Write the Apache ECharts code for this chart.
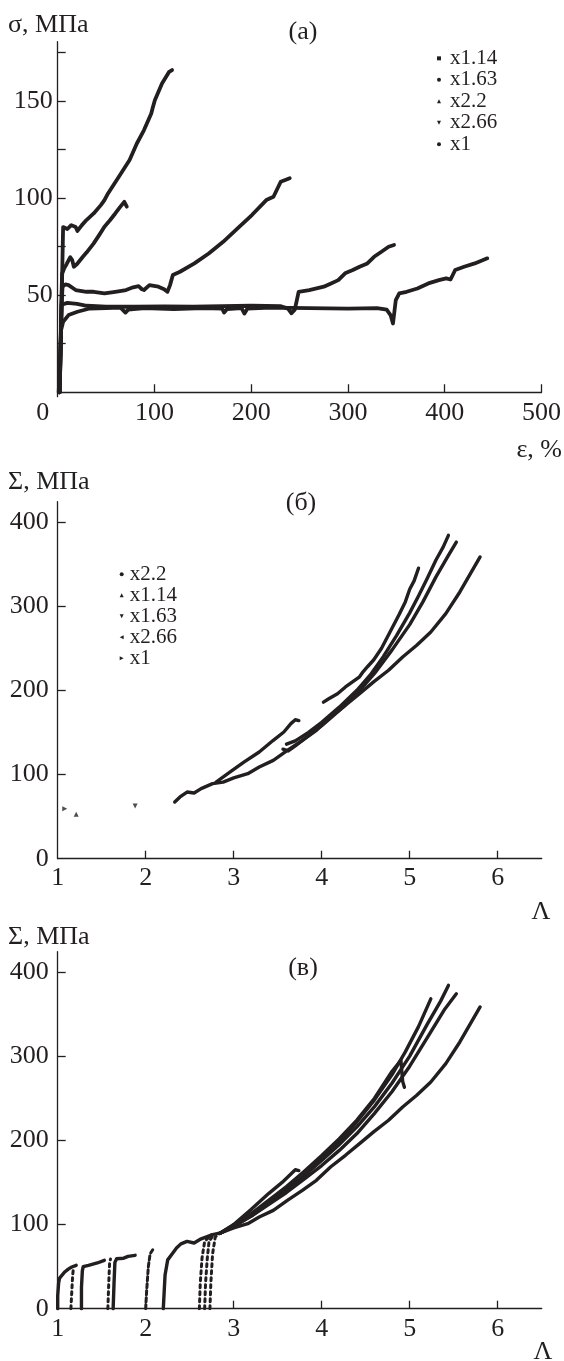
<!DOCTYPE html>
<html><head><meta charset="utf-8">
<script src="https://cdn.jsdelivr.net/npm/echarts@6/dist/echarts.min.js"></script>
<style>html,body{margin:0;padding:0;background:#fff}#c{width:564px;height:1361px}</style>
</head><body><div id="c"></div>
<script>
// ---------- Panel (a): engineering stress σ (MPa) vs strain ε (%) ----------
const a_x114 = [[2,0],[3,20],[4,45],[5,70],[5.6,85],[10,84],[14,86],[18.6,85],[20.4,83],[25,86],[29.7,88.6],[37.2,92],[44.6,96.3],[48.3,98.9],[52,102.3],[63.2,110.9],[74.3,119.5],[81.8,128],[89.2,134.9],[96.7,143.5],[98,146],[100.4,150.3],[107.8,158.9],[115.2,164.9],[118.2,165.8]];
const a_x163 = [[2,0],[3,20],[4,45],[5,54.3],[8,55.5],[11.2,55.1],[18.6,52.6],[29.7,51.7],[37.2,51.7],[48.3,50.9],[59.5,51.7],[70.6,52.6],[78,54],[83.6,54.6],[87,53],[89.2,52.6],[94.8,55.1],[104.1,54.3],[110,53],[113.4,51.7],[116,55],[119,60.3],[126.4,62],[141.3,66.3],[156.1,71.4],[171,77.4],[185.9,84.3],[200.7,91.2],[215.6,98.9],[223,100.6],[230.5,108.3],[239.8,110.1]];
const a_x22 = [[2,0],[3,25],[4,50],[4.5,61],[7,64],[9.3,66],[13,69.5],[15,68],[16.7,64.6],[20,66],[26,69.7],[30,72],[37.2,76.6],[43,81],[48.3,85.2],[54,88.5],[59.5,92],[64,95],[68.8,98],[71.4,95.5]];
const a_x266 = [[2,0],[3,25],[4,45],[5,46],[10,46],[20,45.5],[30,44.5],[50,44],[80,44],[110,44.2],[140,44],[170,44.3],[200,44.5],[230,44.3],[238,43],[241.6,40.6],[245,42.5],[247,47],[249,51.7],[260,52.6],[275,54.3],[282.5,56],[290,57.7],[297,61.2],[305,62.9],[312,64.6],[320,66.3],[327,69.7],[334.6,72.3],[342,74.9],[347.6,75.8]];
const a_x1 = [[1,0],[2,10],[3,25],[3.5,32],[5.6,36.3],[11.2,39.7],[20.4,41.4],[33,43.1],[50,43.3],[65,43.5],[70,41],[73,42.5],[90,43.3],[120,42.8],[150,43.3],[170,43],[172,41],[175,42.8],[190,43.3],[193,40.5],[196,43],[220,43.5],[260,43.3],[300,43],[330,43.3],[340,42.5],[344,39.7],[346.5,35.4],[349.4,47.4],[353,50.9],[360.6,51.7],[371.7,53.4],[383,56],[394,57.7],[401.5,58.6],[406,58],[410.8,62.9],[420,64.6],[431,66.3],[444,68.9]];
const a_xTicks = [0,100,200,300,400,500];
const a_yLabels = [50,100,150];
const a_yTicks = [25,50,75,100,125,150,175];

// ---------- Panel (б): true stress Σ (MPa) vs draw ratio Λ ----------
const b_x22 = [[3.60,136],[3.70,140],[3.85,150],[4.0,162],[4.2,180],[4.4,200],[4.55,218],[4.7,240],[4.85,265],[5.0,292],[5.1,312],[5.2,333],[5.3,355],[5.38,370],[5.44,384]];
const b_x114 = [[2.80,91],[2.96,103],[3.12,114.9],[3.29,126.7],[3.45,140.6],[3.57,150.5],[3.65,160.4],[3.70,165],[3.74,164]];
const b_x163 = [[3.56,130],[3.62,128],[3.7,134],[3.85,146],[4.0,158],[4.2,176],[4.4,196],[4.6,220],[4.8,248],[5.0,278],[5.15,305],[5.3,335],[5.45,362],[5.53,376]];
const b_x266 = [[4.02,186],[4.08,190],[4.18,196],[4.27,204],[4.35,210],[4.43,216],[4.47,222],[4.52,228],[4.59,236],[4.68,250],[4.76,266],[4.88,290],[4.95,305],[5.0,320],[5.05,330],[5.10,345]];
const b_x1 = [[2.33,67.3],[2.39,73.3],[2.47,79.2],[2.55,78],[2.63,83.2],[2.76,89.1],[2.88,91],[3.0,96],[3.16,101],[3.29,108.9],[3.45,116.8],[3.61,128.7],[3.78,140.6],[3.94,152.5],[4.10,168.3],[4.27,182.2],[4.43,196],[4.59,210],[4.76,223.8],[4.92,239.6],[5.08,253.5],[5.24,269.3],[5.41,291],[5.57,316.8],[5.80,358.4]];
const b_pt_x1 = [[1.08,59.4]];
const b_pt_x114 = [[1.21,52.7]];
const b_pt_x163 = [[1.88,62.6]];

// ---------- Panel (в): Σ vs Λ including loading branches ----------
const c_load1 = [[1.0,0],[1.0,15],[1.01,30],[1.02,36],[1.05,40],[1.08,43.6],[1.12,47],[1.16,49.5],[1.21,51.5]];
const c_load2 = [[1.15,0],[1.16,20],[1.17,40],[1.18,49]];
const c_load3 = [[1.27,0],[1.27,25],[1.28,45],[1.29,50],[1.35,51.5],[1.45,54.3],[1.53,57.4]];
const c_load4 = [[1.57,0],[1.58,30],[1.59,55],[1.6,59]];
const c_load5 = [[1.63,0],[1.64,30],[1.65,55],[1.67,59.4],[1.75,60],[1.8,62.2],[1.88,63.4]];
const c_load6 = [[2.0,0],[2.01,20],[2.03,50],[2.05,65],[2.08,70]];
const c_load7 = [[2.2,0],[2.21,20],[2.22,40],[2.25,58],[2.3,65],[2.35,72],[2.4,77],[2.47,80],[2.55,78],[2.63,83],[2.76,88],[2.85,90]];
const c_load8 = [[2.61,0],[2.62,30],[2.64,60],[2.67,80],[2.75,88]];
const c_load9 = [[2.67,0],[2.68,30],[2.7,60],[2.72,80],[2.78,89]];
const c_load10 = [[2.73,0],[2.74,30],[2.76,65],[2.79,85],[2.85,90]];
const c_main1 = [[2.85,90],[3.0,100],[3.2,118],[3.4,137],[3.55,150],[3.65,160],[3.7,165],[3.74,164]];
const c_main2 = [[2.85,90],[3.0,96],[3.16,101],[3.29,108.9],[3.45,116.8],[3.61,128.7],[3.78,140.6],[3.94,152.5],[4.10,168.3],[4.27,182.2],[4.43,196],[4.59,210],[4.76,223.8],[4.92,239.6],[5.08,253.5],[5.24,269.3],[5.41,291],[5.57,316.8],[5.80,358.4]];
const c_main3 = [[2.85,90],[3.0,98],[3.2,110],[3.4,125],[3.6,140],[3.8,158],[4.0,178],[4.2,198],[4.4,222],[4.6,248],[4.8,278],[4.95,305],[5.1,335],[5.24,368]];
const c_main4 = [[2.85,90],[3.0,99],[3.2,112],[3.4,127],[3.6,142],[3.8,158],[4.0,176],[4.2,195],[4.4,216],[4.6,240],[4.8,268],[5.0,300],[5.2,338],[5.35,365],[5.44,384]];
const c_main5 = [[2.85,90],[3.0,98],[3.2,110],[3.4,124],[3.6,138],[3.8,154],[4.0,170],[4.2,188],[4.4,208],[4.6,232],[4.8,258],[5.0,288],[5.2,322],[5.4,356],[5.53,374]];
const c_main6 = [[2.85,90],[3.0,99],[3.2,113],[3.4,129],[3.6,145],[3.8,163],[4.0,182],[4.2,202],[4.4,224],[4.6,250],[4.8,282],[4.9,295],[4.92,270],[4.94,263]];
const bc_xLabels = [1,2,3,4,5,6];
const bc_xTicks = [2,3,4,5,6];
const bc_yLabels = [0,100,200,300,400];

// ---------- chart ----------
const INK = '#231f20';
const FONT = '"Liberation Serif", "Times New Roman", serif';
const FS = 26;
const chart = echarts.init(document.getElementById('c'), null, {renderer: 'canvas'});

function line(name, data, idx, w, dash) {
  return {type: 'line', name: name, data: data, xAxisIndex: idx, yAxisIndex: idx,
    showSymbol: false, symbol: 'none', animation: false, silent: true, z: 3,
    lineStyle: {color: INK, width: w, type: dash || 'solid', cap: 'round', join: 'round'},
    itemStyle: {color: INK}};
}
function pts(name, data, idx, sym) {
  return {type: 'scatter', name: name, data: data, xAxisIndex: idx, yAxisIndex: idx,
    symbol: sym, symbolSize: 5, animation: false, silent: true, itemStyle: {color: INK}};
}
const TRI_DOWN = 'path://M0,0L10,0L5,10Z';
const TRI_LEFT = 'path://M10,0L10,10L0,5Z';
const TRI_RIGHT = 'path://M0,0L10,5L0,10Z';

const axisLine = {show: true, lineStyle: {color: INK, width: 1.3}};
const axisTick = (vals) => ({show: true, inside: true, length: 8, lineStyle: {color: INK, width: 1.3}, customValues: vals});
const lbl = (vals, margin, extra) => Object.assign({color: INK, fontFamily: FONT, fontSize: FS, margin: margin, customValues: vals}, extra || {});

const grids = [
  {left: 57.7, top: 41.7, width: 484, height: 355},
  {left: 57.7, top: 501.7, width: 484, height: 357},
  {left: 57.7, top: 951.7, width: 484, height: 357}
];

const option = {
  backgroundColor: '#fff',
  animation: false,
  grid: grids,
  xAxis: [
    {gridIndex: 0, type: 'value', min: 0, max: 500, splitLine: {show: false}, axisLine: axisLine,
      axisTick: axisTick([100,200,300,400,500]),
      axisLabel: lbl(a_xTicks, 3, {formatter: v => v === 0 ? '{z|0}' : String(v), rich: {z: {fontFamily: FONT, fontSize: FS, color: INK, padding: [0, 30, 0, 0]}}})},
    {gridIndex: 1, type: 'value', min: 1, max: 6.5, splitLine: {show: false}, axisLine: axisLine,
      axisTick: axisTick(bc_xTicks), axisLabel: lbl(bc_xLabels, 6)},
    {gridIndex: 2, type: 'value', min: 1, max: 6.5, splitLine: {show: false}, axisLine: axisLine,
      axisTick: axisTick(bc_xTicks), axisLabel: lbl(bc_xLabels, 7)}
  ],
  yAxis: [
    {gridIndex: 0, type: 'value', min: -2.3, max: 180.4, splitLine: {show: false}, axisLine: axisLine,
      axisTick: axisTick(a_yTicks), axisLabel: lbl(a_yLabels, 5)},
    {gridIndex: 1, type: 'value', min: 0, max: 424, splitLine: {show: false}, axisLine: axisLine,
      axisTick: axisTick([100,200,300,400]), axisLabel: lbl(bc_yLabels, 9)},
    {gridIndex: 2, type: 'value', min: 0, max: 424, splitLine: {show: false}, axisLine: axisLine,
      axisTick: axisTick([100,200,300,400]), axisLabel: lbl(bc_yLabels, 9)}
  ],
  legend: [
    {orient: 'vertical', left: 437, top: 47.6, padding: 0, itemGap: 0, itemWidth: 4, itemHeight: 4,
      selectedMode: false,
      textStyle: {fontFamily: FONT, fontSize: 21, color: INK, lineHeight: 21.5, padding: [0, 0, 0, 4]},
      data: [{name: 'x1.14', icon: 'rect'}, {name: 'x1.63', icon: 'circle'}, {name: 'x2.2', icon: 'triangle'},
             {name: 'x2.66', icon: TRI_DOWN}, {name: 'x1', icon: 'circle'}]},
    {orient: 'vertical', left: 119.7, top: 563.8, padding: 0, itemGap: 0, itemWidth: 4, itemHeight: 4,
      selectedMode: false,
      textStyle: {fontFamily: FONT, fontSize: 21, color: INK, lineHeight: 19, padding: [0, 0, 0, 1]},
      data: [{name: 'x2.2', icon: 'circle'}, {name: 'x1.14', icon: 'triangle'}, {name: 'x1.63', icon: TRI_DOWN},
             {name: 'x2.66', icon: TRI_LEFT}, {name: 'x1', icon: TRI_RIGHT}]}
  ],
  series: [
    line('x1.14', a_x114, 0, 3.8), line('x1.63', a_x163, 0, 3.8), line('x2.2', a_x22, 0, 3.8),
    line('x2.66', a_x266, 0, 3.8), line('x1', a_x1, 0, 3.8),
    line('x2.2', b_x22, 1, 3.4), line('x1.14', b_x114, 1, 3.4), line('x1.63', b_x163, 1, 3.4),
    line('x2.66', b_x266, 1, 3.4), line('x1', b_x1, 1, 3.4),
    pts('x1', b_pt_x1, 1, TRI_RIGHT), pts('x1.14', b_pt_x114, 1, 'triangle'), pts('x1.63', b_pt_x163, 1, TRI_DOWN),
    line('c1', c_load1, 2, 3.4), line('c2', c_load2, 2, 3, [3, 4]), line('c3', c_load3, 2, 3.4),
    line('c4', c_load4, 2, 3, [3, 4]), line('c5', c_load5, 2, 3.4), line('c6', c_load6, 2, 3, [4, 3]),
    line('c7', c_load7, 2, 3.4), line('c8', c_load8, 2, 3, [3, 4]), line('c9', c_load9, 2, 3, [3, 4]),
    line('c10', c_load10, 2, 3, [3, 4]),
    line('c11', c_main1, 2, 3.4), line('c12', c_main2, 2, 3.4), line('c13', c_main3, 2, 3.4),
    line('c14', c_main4, 2, 3.4), line('c15', c_main5, 2, 3.4), line('c16', c_main6, 2, 3.4)
  ],
  graphic: [
    {type: 'text', x: 8, y: 25, style: {text: 'σ, МПа', font: FS + 'px ' + FONT, fill: INK, align: 'left', verticalAlign: 'middle'}},
    {type: 'text', x: 303, y: 31.7, style: {text: '(а)', font: FS + 'px ' + FONT, fill: INK, align: 'center', verticalAlign: 'middle'}},
    {type: 'text', x: 562, y: 450, style: {text: 'ε, %', font: FS + 'px ' + FONT, fill: INK, align: 'right', verticalAlign: 'middle'}},
    {type: 'text', x: 8, y: 481.7, style: {text: 'Σ, МПа', font: FS + 'px ' + FONT, fill: INK, align: 'left', verticalAlign: 'middle'}},
    {type: 'text', x: 301, y: 503.5, style: {text: '(б)', font: FS + 'px ' + FONT, fill: INK, align: 'center', verticalAlign: 'middle'}},
    {type: 'text', x: 541, y: 911.7, style: {text: 'Λ', font: FS + 'px ' + FONT, fill: INK, align: 'center', verticalAlign: 'middle'}},
    {type: 'text', x: 8, y: 936.7, style: {text: 'Σ, МПа', font: FS + 'px ' + FONT, fill: INK, align: 'left', verticalAlign: 'middle'}},
    {type: 'text', x: 303, y: 968.5, style: {text: '(в)', font: FS + 'px ' + FONT, fill: INK, align: 'center', verticalAlign: 'middle'}},
    {type: 'text', x: 543, y: 1352, style: {text: 'Λ', font: FS + 'px ' + FONT, fill: INK, align: 'center', verticalAlign: 'middle'}}
  ]
};
chart.setOption(option);
</script></body></html>
